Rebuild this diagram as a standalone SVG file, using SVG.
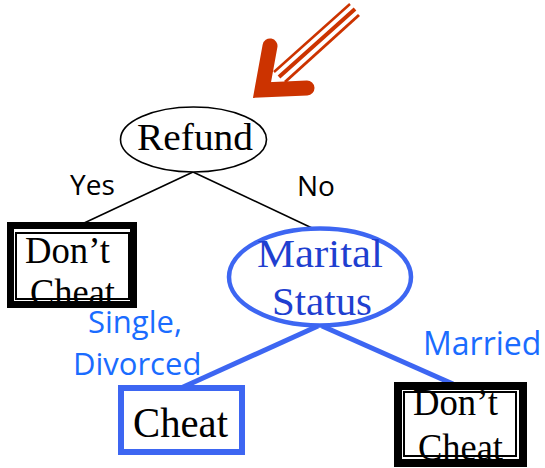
<svg xmlns="http://www.w3.org/2000/svg" width="545" height="468" viewBox="0 0 545 468">
  <style>
    .serif { font-family: "Liberation Serif", "Times New Roman", serif; text-anchor: middle; }
    .lbl { font-family: "Open Sans", "Liberation Sans", sans-serif; }
    .edge-k { stroke: #000; stroke-width: 1.6; fill: none; }
    .edge-b { stroke: #3d66f2; stroke-width: 5; fill: none; stroke-linecap: butt; }
    .leaf-out { fill: #fff; stroke: #000; }
    .leaf-in { fill: none; stroke: #000; stroke-width: 2; }
  </style>
  <rect width="545" height="468" fill="#fff"/>

  <!-- pointer arrow -->
  <g id="pointer" fill="none" stroke="#cc3300">
    <line x1="274" y1="72" x2="350" y2="4" stroke-width="2.5"/>
    <line x1="279" y1="77" x2="355" y2="9" stroke-width="4"/>
    <line x1="285" y1="82" x2="359" y2="15" stroke-width="3"/>
    <polyline points="270,46 262,90 307,88" stroke-width="15" stroke-linejoin="miter" stroke-linecap="round"/>
  </g>

  <!-- connectors -->
  <g id="edges">
    <line class="edge-k" x1="193" y1="172" x2="82" y2="224"/>
    <line class="edge-k" x1="193" y1="172" x2="312" y2="228"/>
    <line class="edge-b" x1="318" y1="326" x2="181" y2="388"/>
    <line class="edge-b" x1="322" y1="326" x2="453" y2="384"/>
  </g>

  <!-- edge labels -->
  <g id="labels">
    <text class="lbl" x="70" y="195" font-size="28" fill="#000">Yes</text>
    <text class="lbl" x="297" y="196" font-size="28" fill="#000">No</text>
    <text class="lbl" x="88" y="333" font-size="31" fill="#1a6cff">Single,</text>
    <text class="lbl" x="73" y="375" font-size="31" fill="#1a6cff">Divorced</text>
    <text class="lbl" x="423" y="355" font-size="32" fill="#1a6cff">Married</text>
  </g>

  <g id="refund">
    <ellipse cx="193.5" cy="139.5" rx="73" ry="32.5" fill="#fff" stroke="#000" stroke-width="1.6"/>
    <text class="serif" x="195" y="150" font-size="38" textLength="116" lengthAdjust="spacingAndGlyphs">Refund</text>
  </g>

  <g id="leaf-yes">
    <rect class="leaf-out" x="10.5" y="225.5" width="123" height="79" stroke-width="7"/>
    <rect class="leaf-in" x="16" y="233" width="113" height="66"/>
    <text class="serif" x="67.5" y="263" font-size="37" textLength="85" lengthAdjust="spacingAndGlyphs">Don’t</text>
    <text class="serif" x="72.5" y="305" font-size="37" textLength="85" lengthAdjust="spacingAndGlyphs">Cheat</text>
  </g>

  <g id="marital">
    <ellipse cx="320" cy="277" rx="91" ry="48.5" fill="#fff" stroke="#3d66f2" stroke-width="4.5"/>
    <text class="serif" x="320" y="267" font-size="40" fill="#1f3fd0" textLength="126" lengthAdjust="spacingAndGlyphs">Marital</text>
    <text class="serif" x="322" y="315" font-size="40" fill="#1f3fd0" textLength="100" lengthAdjust="spacingAndGlyphs">Status</text>
  </g>

  <g id="leaf-cheat">
    <rect x="121" y="388" width="121" height="64" fill="#fff" stroke="#3d66f2" stroke-width="6"/>
    <text class="serif" x="180.5" y="437" font-size="42" textLength="95" lengthAdjust="spacingAndGlyphs">Cheat</text>
  </g>

  <g id="leaf-married">
    <rect class="leaf-out" x="398" y="386" width="125" height="77" stroke-width="8"/>
    <rect class="leaf-in" x="404" y="392" width="112" height="64"/>
    <text class="serif" x="455.5" y="415" font-size="37" textLength="85" lengthAdjust="spacingAndGlyphs">Don’t</text>
    <text class="serif" x="460.5" y="460" font-size="37" textLength="85" lengthAdjust="spacingAndGlyphs">Cheat</text>
  </g>
</svg>
